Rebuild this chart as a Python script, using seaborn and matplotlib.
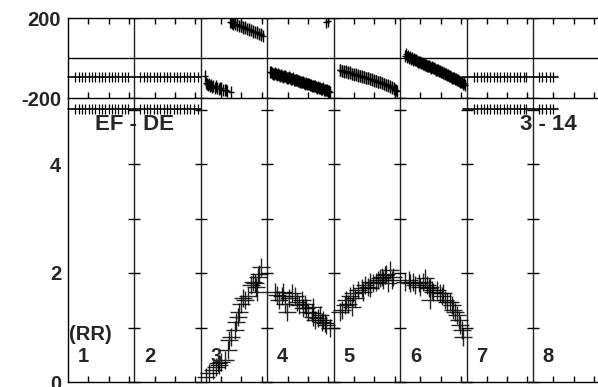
import numpy as np
import pandas as pd
import matplotlib
matplotlib.use("Agg")
import matplotlib.pyplot as plt
import seaborn as sns

sns.set_theme(style="white")
plt.rcParams['font.family'] = ['Liberation Sans', 'DejaVu Sans']
plt.rcParams['font.weight'] = 'bold'

# ---------------- data ----------------
segment_labels = ["1", "2", "3", "4", "5", "6", "7", "8"]
top_yticks = [200, -200]
bot_yticks = [0, 1, 2, 3, 4, 5]
bot_ylabels = ["0", "", "2", "", "4", ""]

# bottom panel (RR amplitude), x = position within segment (0-1)
amp3_f = [0.08, 0.13, 0.18, 0.23, 0.26, 0.28, 0.31, 0.36, 0.41, 0.43, 0.46, 0.51, 0.53, 0.56,
          0.58, 0.61, 0.63, 0.66, 0.71, 0.76, 0.78, 0.81, 0.83, 0.85, 0.86, 0.88, 0.91]
amp3_y = [0.10, 0.16, 0.22, 0.28, 0.34, 0.31, 0.37, 0.40, 0.59, 0.77, 0.83, 0.95, 1.11, 1.20,
          1.29, 1.44, 1.54, 1.50, 1.57, 1.78, 1.84, 1.81, 1.75, 1.66, 1.93, 1.99, 2.11]
amp4_f = [0.12, 0.14, 0.17, 0.22, 0.24, 0.27, 0.29, 0.32, 0.37, 0.42, 0.44, 0.47, 0.52, 0.54,
          0.57, 0.59, 0.62, 0.67, 0.69, 0.69, 0.72, 0.77, 0.79, 0.82, 0.84, 0.87, 0.89, 0.94]
amp4_y = [1.66, 1.60, 1.50, 1.57, 1.66, 1.44, 1.29, 1.54, 1.63, 1.57, 1.47, 1.41, 1.50, 1.35,
          1.44, 1.35, 1.29, 1.26, 1.20, 1.38, 1.14, 1.17, 1.23, 1.11, 1.14, 1.08, 1.05, 0.99]
amp5_f = [0.09, 0.12, 0.17, 0.19, 0.22, 0.24, 0.27, 0.29, 0.32, 0.37, 0.42, 0.44, 0.47, 0.52,
          0.54, 0.54, 0.59, 0.64, 0.67, 0.69, 0.72, 0.74, 0.77, 0.79, 0.82, 0.84, 0.87, 0.89]
amp5_y = [1.29, 1.32, 1.41, 1.50, 1.44, 1.57, 1.38, 1.63, 1.54, 1.69, 1.72, 1.66, 1.78, 1.75,
          1.84, 1.72, 1.81, 1.84, 1.87, 1.90, 1.93, 1.87, 1.96, 1.99, 1.81, 2.06, 1.87, 1.93]
amp6_f = [0.08, 0.13, 0.15, 0.20, 0.23, 0.28, 0.30, 0.35, 0.38, 0.40, 0.43, 0.45, 0.45, 0.48,
          0.50, 0.55, 0.60, 0.63, 0.65, 0.68, 0.70, 0.75, 0.78, 0.80, 0.83, 0.85, 0.88, 0.90,
          0.93, 0.94]
amp6_y = [1.84, 1.87, 1.81, 1.84, 1.78, 1.81, 1.75, 1.84, 1.90, 1.78, 1.72, 1.75, 1.50, 1.69,
          1.66, 1.69, 1.63, 1.57, 1.63, 1.50, 1.47, 1.47, 1.41, 1.32, 1.29, 1.23, 1.14, 1.05,
          0.95, 0.83]

# top panel (EF - DE phase, degrees)
ph3a_f = [0.06, 0.07, 0.09, 0.10, 0.12, 0.14, 0.16, 0.17, 0.19, 0.21, 0.23, 0.24, 0.27, 0.29,
          0.30, 0.33, 0.36, 0.38, 0.40, 0.45]
ph3a_y = [-92, -125, -132, -135, -130, -140, -136, -145, -138, -150, -142, -148, -155, -150,
          -152, -160, -158, -162, -165, -170]
ph3b_f = [0.44, 0.46, 0.47, 0.49, 0.50, 0.52, 0.54, 0.55, 0.58, 0.60, 0.61, 0.63, 0.64, 0.66,
          0.67, 0.70, 0.72, 0.73, 0.76, 0.78, 0.79, 0.82, 0.84, 0.85, 0.88, 0.90, 0.91, 0.94]
ph3b_y = [180, 178, 175, 172, 178, 168, 170, 165, 160, 162, 158, 154, 150, 155, 152, 145, 147,
          140, 138, 135, 132, 128, 130, 125, 118, 122, 115, 108]
ph4_f = [0.04, 0.06, 0.07, 0.09, 0.10, 0.12, 0.13, 0.15, 0.16, 0.18, 0.19, 0.21, 0.22, 0.24,
         0.25, 0.27, 0.28, 0.30, 0.31, 0.33, 0.34, 0.36, 0.37, 0.39, 0.40, 0.42, 0.43, 0.45,
         0.46, 0.48, 0.49, 0.51, 0.52, 0.54, 0.55, 0.57, 0.58, 0.60, 0.61, 0.63, 0.64, 0.66,
         0.67, 0.69, 0.70, 0.72, 0.73, 0.75, 0.76, 0.78, 0.79, 0.81, 0.82, 0.84, 0.85, 0.87,
         0.88, 0.90, 0.91, 0.93, 0.94, 0.89, 0.92]
ph4_y = [-72, -70, -75, -80, -78, -76, -82, -85, -80, -84, -88, -86, -90, -93, -92, -90, -95,
         -99, -98, -96, -100, -104, -105, -102, -108, -112, -110, -108, -115, -113, -118, -121,
         -120, -118, -125, -128, -126, -130, -128, -132, -135, -133, -138, -142, -140, -138,
         -145, -148, -146, -150, -150, -153, -155, -152, -158, -162, -160, -158, -165, -166,
         -168, 182, 185]
ph5_f = [0.09, 0.10, 0.12, 0.13, 0.15, 0.16, 0.18, 0.19, 0.21, 0.22, 0.24, 0.25, 0.27, 0.28,
         0.30, 0.31, 0.33, 0.34, 0.36, 0.37, 0.39, 0.40, 0.42, 0.43, 0.45, 0.46, 0.48, 0.49,
         0.51, 0.52, 0.54, 0.55, 0.57, 0.58, 0.60, 0.61, 0.63, 0.64, 0.66, 0.67, 0.69, 0.70,
         0.72, 0.73, 0.75, 0.76, 0.78, 0.79, 0.81, 0.82, 0.84, 0.85, 0.87, 0.88, 0.90, 0.91,
         0.93, 0.94, 0.96]
ph5_y = [-62, -58, -66, -64, -65, -68, -70, -66, -72, -74, -75, -72, -78, -80, -80, -83, -84,
         -82, -86, -88, -90, -88, -92, -95, -96, -94, -98, -100, -102, -100, -105, -107, -108,
         -106, -112, -114, -115, -113, -118, -120, -122, -121, -125, -127, -130, -128, -134,
         -136, -138, -137, -142, -145, -148, -146, -152, -154, -158, -160, -165]
ph6_f = [0.08, 0.09, 0.11, 0.12, 0.14, 0.15, 0.17, 0.18, 0.20, 0.21, 0.23, 0.24, 0.26, 0.27,
         0.29, 0.30, 0.32, 0.33, 0.35, 0.36, 0.38, 0.39, 0.41, 0.42, 0.44, 0.45, 0.47, 0.48,
         0.50, 0.51, 0.53, 0.54, 0.56, 0.57, 0.59, 0.60, 0.62, 0.63, 0.65, 0.66, 0.68, 0.69,
         0.71, 0.72, 0.74, 0.75, 0.77, 0.78, 0.80, 0.81, 0.83, 0.84, 0.86, 0.87, 0.89, 0.90,
         0.92, 0.93, 0.95, 0.96, 0.98]
ph6_y = [12, 18, 5, 8, 2, 4, -5, -2, -8, -6, -12, -10, -15, -18, -22, -20, -25, -24, -30, -28,
         -35, -33, -38, -40, -42, -45, -48, -46, -52, -50, -55, -58, -60, -62, -65, -63, -70,
         -72, -75, -73, -80, -78, -84, -86, -90, -88, -95, -98, -100, -98, -105, -107, -110,
         -108, -115, -118, -120, -122, -128, -126, -135]
flat_f1 = [0.11, 0.16, 0.21, 0.26, 0.31, 0.36, 0.41, 0.46, 0.51, 0.56, 0.61, 0.66, 0.71, 0.76,
           0.81, 0.86, 0.90]
flat_f2 = [0.09, 0.14, 0.19, 0.24, 0.29, 0.34, 0.39, 0.44, 0.49, 0.54, 0.59, 0.64, 0.69, 0.74,
           0.79, 0.84, 0.89, 0.95]
flat_f7 = [0.11, 0.16, 0.21, 0.26, 0.31, 0.36, 0.41, 0.46, 0.51, 0.56, 0.61, 0.66, 0.71, 0.76,
           0.81, 0.86, 0.90]
flat_f8 = [0.09, 0.14, 0.19, 0.25, 0.30]
flat_upper = -95
flat_lower = -255

# ---------------- build tables ----------------
def seg(f, k):
    return [k - 1 + v for v in f]

amp = pd.DataFrame({
    "x": seg(amp3_f, 3) + seg(amp4_f, 4) + seg(amp5_f, 5) + seg(amp6_f, 6),
    "y": amp3_y + amp4_y + amp5_y + amp6_y,
})
ph = pd.DataFrame({
    "x": seg(ph3a_f, 3) + seg(ph3b_f, 3) + seg(ph4_f, 4) + seg(ph5_f, 5) + seg(ph6_f, 6),
    "y": ph3a_y + ph3b_y + ph4_y + ph5_y + ph6_y,
})
flat_x = seg(flat_f1, 1) + seg(flat_f2, 2) + seg(flat_f7, 7) + seg(flat_f8, 8)
flat = pd.DataFrame({
    "x": flat_x + flat_x,
    "y": [flat_upper] * len(flat_x) + [flat_lower] * len(flat_x),
})

# ---------------- figure ----------------
W, H = 598, 387
fig = plt.figure(figsize=(W / 100, H / 100), dpi=100)
seg_w = 66.43
left = 68 / W
width = 8 * seg_w / W
ax_b = fig.add_axes([left, 1 - 382 / H, width, 284 / H])
ax_t = fig.add_axes([left, 1 - 98 / H, width, 80 / H])
ax_b.set_zorder(1)
ax_t.set_zorder(2)

ink = "black"
minor_f = [0.305, 0.61, 0.915]
xt = [k + f for k in range(8) for f in minor_f]

for ax in (ax_t, ax_b):
    ax.set_xlim(0, 8)
    for s in ax.spines.values():
        s.set_color(ink)
        s.set_linewidth(1.0)
    ax.set_xticks(xt)
    ax.set_xticklabels([])
    ax.set_facecolor("white")
    for k in range(1, 8):
        ax.axvline(k, color="#222222", lw=1.0, zorder=1)

lab_fs = 14.5

# top panel
ax_t.set_ylim(-200, 200)
ax_t.set_yticks(top_yticks)
ax_t.set_yticklabels([str(v) for v in top_yticks], fontsize=lab_fs, fontweight="bold")
ax_t.tick_params(axis="x", direction="in", length=4, width=1, top=True, bottom=True, color=ink)
ax_t.tick_params(axis="y", direction="in", length=4, width=1, pad=5, color=ink)
ax_t.axhline(0, color=ink, lw=1.0, zorder=1)

sns.scatterplot(data=ph, x="x", y="y", ax=ax_t, marker="|", s=70, color=ink,
                linewidth=1.0, legend=False, zorder=3)
sns.scatterplot(data=ph, x="x", y="y", ax=ax_t, marker="_", s=25, color=ink,
                linewidth=1.0, legend=False, zorder=3)
sns.scatterplot(data=flat, x="x", y="y", ax=ax_t, marker="|", s=55, color=ink,
                linewidth=0.9, legend=False, zorder=3, clip_on=False)
for yv in (flat_upper, flat_lower):
    ax_t.plot([0, 2], [yv, yv], color=ink, lw=1.2, clip_on=False, zorder=3)
    ax_t.plot([5.95, 7.37], [yv, yv], color=ink, lw=1.2, clip_on=False, zorder=3)
for k in range(1, 8):
    ax_t.plot([k, k], [-200, 200], ls="none", marker="_", ms=8, mew=1.0, color=ink)
ax_t.set_xlabel("")
ax_t.set_ylabel("")

# bottom panel
ax_b.spines["top"].set_visible(False)
ax_b.set_ylim(0, 284 / 54.5)
ax_b.set_yticks(bot_yticks)
ax_b.set_yticklabels(bot_ylabels, fontsize=lab_fs, fontweight="bold")
ax_b.tick_params(axis="x", direction="in", length=4, width=1, top=False, bottom=True, color=ink)
ax_b.tick_params(axis="y", direction="in", length=5, width=1, pad=5, color=ink)
for k in range(1, 8):
    ax_b.plot([k] * len(bot_yticks), bot_yticks, ls="none", marker="_", ms=9, mew=1.0,
              color=ink, clip_on=False)

sns.scatterplot(data=amp, x="x", y="y", ax=ax_b, marker="+", s=150, color=ink,
                linewidth=1.0, alpha=0.85, legend=False, zorder=3)
ax_b.set_xlabel("")
ax_b.set_ylabel("")

for i, lab in enumerate(segment_labels):
    ax_b.text(i + 0.23, 0.47, lab, ha="center", va="center", fontsize=lab_fs, fontweight="bold")
ax_b.text(0.33, 0.88, "(RR)", ha="center", va="center", fontsize=lab_fs, fontweight="bold")
ax_b.text(1.0, 4.73, "EF - DE", ha="center", va="center", fontsize=16, fontweight="bold",
          zorder=5)
ax_b.text(7.23, 4.73, "3 - 14", ha="center", va="center", fontsize=16, fontweight="bold",
          zorder=5)

fig.savefig("out.png", dpi=100, facecolor="white")
